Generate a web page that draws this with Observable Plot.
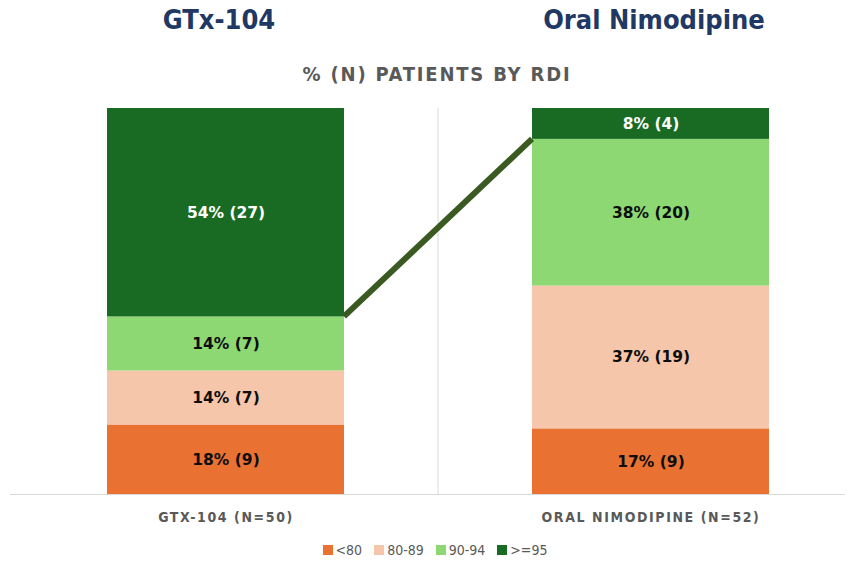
<!DOCTYPE html>
<html>
<head>
<meta charset="utf-8">
<script src="https://cdn.jsdelivr.net/npm/d3@7"></script>
<script src="https://cdn.jsdelivr.net/npm/@observablehq/plot@0.6"></script>
<style>
  html, body { margin: 0; padding: 0; background: #fff; }
  #wrap { position: relative; width: 854px; height: 567px; overflow: hidden; font-family: "DejaVu Sans Condensed", "Liberation Sans", sans-serif; }
  .title { position: absolute; top: 4px; font-size: 27px; font-weight: bold; color: #1F3864; transform: translateX(-50%); white-space: nowrap; }
  #sub { position: absolute; top: 62px; left: 437px; transform: translateX(-50%); font-size: 20px; font-weight: bold; color: #595959; letter-spacing: 1.8px; white-space: nowrap; }
  #chart { position: absolute; top: 100px; left: 0; }
  #chart svg [aria-label="x-axis tick label"] text { letter-spacing: 1.6px; }
  #legend { position: absolute; top: 542px; left: 8px; width: 854px; display: flex; justify-content: center; gap: 12px; font-size: 14px; color: #595959; }
  #legend .item { display: flex; align-items: center; gap: 3px; }
  #legend .sw { width: 10px; height: 10px; display: inline-block; }
</style>
</head>
<body>
<div id="wrap">
  <div class="title" style="left:219px">GTx-104</div>
  <div class="title" style="left:654px">Oral Nimodipine</div>
  <div id="sub">% (N) PATIENTS BY RDI</div>
  <div id="chart"></div>
  <div id="legend"></div>
</div>
<script>
const groups = ["GTX-104 (N=50)", "ORAL NIMODIPINE (N=52)"];
const categories = ["<80", "80-89", "90-94", ">=95"];
const colors = ["#E97132", "#F5C6AA", "#8ED873", "#196B24"];
const gtxPct = [18, 14, 14, 54];
const gtxN = [9, 7, 7, 27];
const nimPct = [17, 37, 38, 8];
const nimN = [9, 19, 20, 4];

const rows = [];
categories.forEach((c, i) => rows.push({group: groups[0], cat: c, pct: gtxPct[i], n: gtxN[i]}));
categories.forEach((c, i) => rows.push({group: groups[1], cat: c, pct: nimPct[i], n: nimN[i]}));

// connector: top of 90-94 on left bar -> bottom of >=95 on right bar
const cum = (arr, k) => arr.slice(0, k).reduce((a, b) => a + b, 0);
const connector = {y1: cum(gtxPct, 3), y2: cum(nimPct, 3)};

const W = 854, H = 435;

function customMark(draw) {
  return (index, scales, values, dims) => {
    const g = d3.create("svg:g");
    draw(g, scales, dims);
    return g.node();
  };
}

const chart = Plot.plot({
  width: W,
  height: H,
  marginTop: 8,
  marginBottom: 41,
  marginLeft: 10,
  marginRight: 9,
  style: {fontFamily: '"DejaVu Sans Condensed", sans-serif', background: "transparent"},
  x: {domain: groups, range: [107, 769], paddingInner: 188 / 425, paddingOuter: 0},
  y: {domain: [0, 100], axis: null},
  color: {domain: categories, range: colors},
  marks: [
    customMark((g, {x}, dims) => {
      const bw = typeof x.bandwidth === "function" ? x.bandwidth() : x.bandwidth;
      const xm = (x(groups[0]) + bw + x(groups[1])) / 2;
      g.append("line").attr("x1", xm).attr("x2", xm)
        .attr("y1", dims.marginTop).attr("y2", dims.height - dims.marginBottom)
        .attr("stroke", "#D9D9D9").attr("stroke-width", 1);
    }),
    Plot.ruleY([0], {stroke: "#D9D9D9", strokeWidth: 1.2}),
    Plot.barY(rows, {x: "group", y: "pct", fill: "cat", order: categories}),
    Plot.text(rows, Plot.stackY({
      x: "group", y: "pct", order: categories,
      text: d => `${d.pct}% (${d.n})`,
      fill: d => d.cat === ">=95" ? "#FFFFFF" : "#0D0D0D",
      fontSize: 15.5, fontWeight: "bold",
      fontFamily: '"DejaVu Sans", sans-serif'
    })),
    customMark((g, {x, y}) => {
      const bw = typeof x.bandwidth === "function" ? x.bandwidth() : x.bandwidth;
      g.append("line")
        .attr("x1", x(groups[0]) + bw).attr("y1", y(connector.y1))
        .attr("x2", x(groups[1])).attr("y2", y(connector.y2))
        .attr("stroke", "#3A5A22").attr("stroke-width", 6);
    }),
    Plot.axisX({tickSize: 0, tickPadding: 18, fontSize: 14, fontWeight: "bold", fill: "#595959", label: null})
  ]
});
document.getElementById("chart").appendChild(chart);

const legend = d3.select("#legend");
categories.forEach((c, i) => {
  const it = legend.append("div").attr("class", "item");
  it.append("span").attr("class", "sw").style("background", colors[i]);
  it.append("span").text(c);
});
</script>
</body>
</html>
